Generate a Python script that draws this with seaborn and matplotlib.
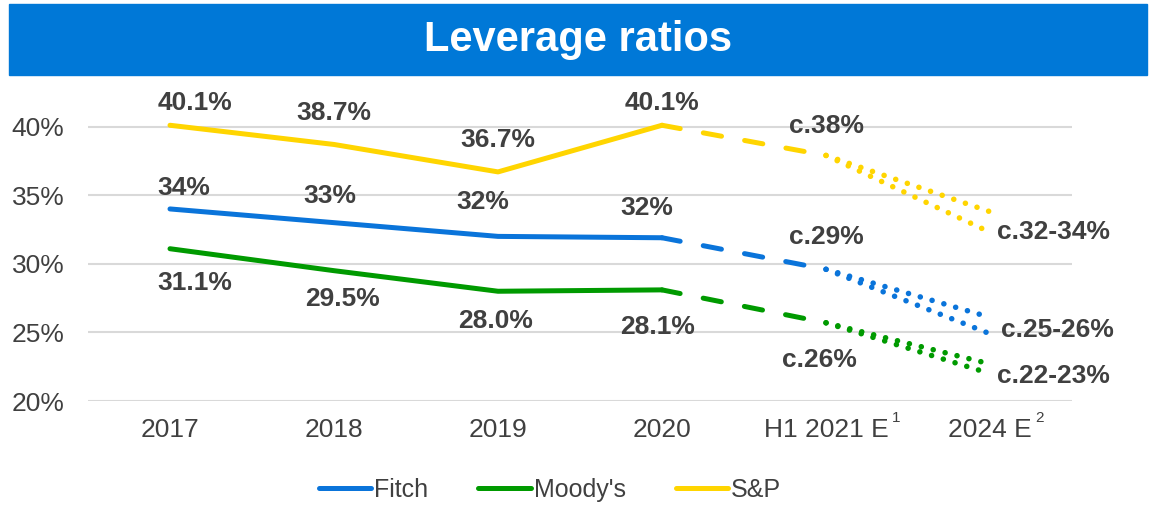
import numpy as np
import pandas as pd
import matplotlib.pyplot as plt
import seaborn as sns
from matplotlib.patches import Rectangle

# data
categories = ["2017", "2018", "2019", "2020", "H1 2021 E", "2024 E"]
footnotes = ["1", "2"]
agencies = ["Fitch", "Moody's", "S&P"]

fitch_hist = [34.0, 33.0, 32.0, 31.9]
moodys_hist = [31.1, 29.5, 28.0, 28.1]
sp_hist = [40.1, 38.7, 36.7, 40.1]

fitch_h1 = 29.6
moodys_h1 = 25.7
sp_h1 = 37.9

fitch_2024 = [26.1, 24.9]
moodys_2024 = [22.7, 22.0]
sp_2024 = [33.8, 32.3]

fitch_labels = ["34%", "33%", "32%", "32%"]
moodys_labels = ["31.1%", "29.5%", "28.0%", "28.1%"]
sp_labels = ["40.1%", "38.7%", "36.7%", "40.1%"]
h1_labels = ["c.29%", "c.26%", "c.38%"]
e2024_labels = ["c.25-26%", "c.22-23%", "c.32-34%"]

yticks = [20, 25, 30, 35, 40]

# styling
colors = {"Fitch": "#0A74DA", "Moody's": "#009A00", "S&P": "#FFD500"}
banner_color = "#0078D7"
text_color = "#404040"
lw = 3.6

# label offsets in pixels (x, y) relative to the point
hist_offsets = {
    "Fitch": [(14, 21), (-4, 27), (-15, 34), (-15, 30)],
    "Moody's": [(25, -34), (8, -28), (-2, -30), (-4, -37)],
    "S&P": [(25, 22), (0, 31), (0, 32), (0, 22)],
}
h1_offsets = [(0, 32), (-7, -37), (0, 29)]
e2024_offsets = [(11, 4), (7, -2), (7, 0)]

sns.set_style("white")
plt.rcParams["font.family"] = ["Liberation Sans", "DejaVu Sans"]

hist = {"Fitch": fitch_hist, "Moody's": moodys_hist, "S&P": sp_hist}
h1 = {"Fitch": fitch_h1, "Moody's": moodys_h1, "S&P": sp_h1}
e2024 = {"Fitch": fitch_2024, "Moody's": moodys_2024, "S&P": sp_2024}
hist_labels = {"Fitch": fitch_labels, "Moody's": moodys_labels, "S&P": sp_labels}

rows = []
for a in agencies:
    for i, v in enumerate(hist[a]):
        rows.append({"x": i, "value": v, "agency": a})
df = pd.DataFrame(rows)

fig = plt.figure(figsize=(11.53, 5.05), dpi=100)
W, H = 1153, 505
ax = fig.add_axes([88 / W, 1 - 401 / H, 984 / W, (401 - 99.2) / H])

sns.lineplot(data=df, x="x", y="value", hue="agency", hue_order=agencies,
             palette=colors, linewidth=lw, ax=ax, legend=True,
             solid_capstyle="round", solid_joinstyle="round")

for i, a in enumerate(agencies):
    c = colors[a]
    # 2020 -> H1 2021 estimate: dashed
    ax.plot([3, 4], [hist[a][-1], h1[a]], color=c, lw=lw,
            linestyle=(0, (3.7, 4.7)), dash_capstyle="round")
    # H1 2021 -> 2024 range: dotted
    for v in e2024[a]:
        ax.plot([4, 5], [h1[a], v], color=c, lw=4.0,
                linestyle=(0, (0.01, 2.2)), dash_capstyle="round")

    for j, v in enumerate(hist[a]):
        ax.annotate(hist_labels[a][j], xy=(j, v), xytext=hist_offsets[a][j],
                    textcoords="offset pixels", ha="center", va="center",
                    fontsize=19, fontweight="bold", color=text_color)
    ax.annotate(h1_labels[i], xy=(4, h1[a]), xytext=h1_offsets[i],
                textcoords="offset pixels", ha="center", va="center",
                fontsize=19, fontweight="bold", color=text_color)
    ax.annotate(e2024_labels[i], xy=(5, min(e2024[a])), xytext=e2024_offsets[i],
                textcoords="offset pixels", ha="left", va="center",
                fontsize=19, fontweight="bold", color=text_color,
                annotation_clip=False)

ax.set_xlim(-0.5, 5.5)
ax.set_ylim(20, 42)
ax.set_xticks(range(len(categories)))
ax.set_xticklabels(categories)
ax.set_yticks(yticks)
ax.set_yticklabels([f"{t}%" for t in yticks])
ax.tick_params(axis="both", length=0, labelsize=19, colors=text_color)
ax.tick_params(axis="y", pad=17)
ax.tick_params(axis="x", pad=12)
ax.set_xlabel("")
ax.set_ylabel("")
ax.yaxis.grid(True, color="#D9D9D9", linewidth=1.5)
ax.set_axisbelow(True)
for s in ax.spines.values():
    s.set_visible(False)

# footnote markers on the estimate ticks
for k, (fn, dx) in enumerate(zip(footnotes, [70, 50])):
    ax.annotate(fn, xy=(4 + k, 0), xycoords=("data", "axes fraction"),
                xytext=(dx, -17), textcoords="offset pixels",
                ha="center", va="center", fontsize=11, color=text_color,
                annotation_clip=False)

# legend
handles, labels = ax.get_legend_handles_labels()
ax.get_legend().remove()
leg = fig.legend(handles[:3], labels[:3], loc="center",
                 bbox_to_anchor=(550 / W, 15 / H), ncol=3, frameon=False,
                 fontsize=18, handlelength=2.1, handletextpad=0.12,
                 columnspacing=2.0)
for t in leg.get_texts():
    t.set_color(text_color)
for h in leg.get_lines():
    h.set_linewidth(lw)
    h.set_solid_capstyle("round")

# title banner
fig.patches.append(Rectangle((9 / W, 1 - 75 / H), 1138 / W, 71 / H,
                             transform=fig.transFigure, color=banner_color,
                             zorder=0))
fig.text(578 / W, 1 - 40 / H, "Leverage ratios", ha="center", va="center",
         fontsize=30, fontweight="bold", color="white")

fig.savefig("out.png", dpi=100)
